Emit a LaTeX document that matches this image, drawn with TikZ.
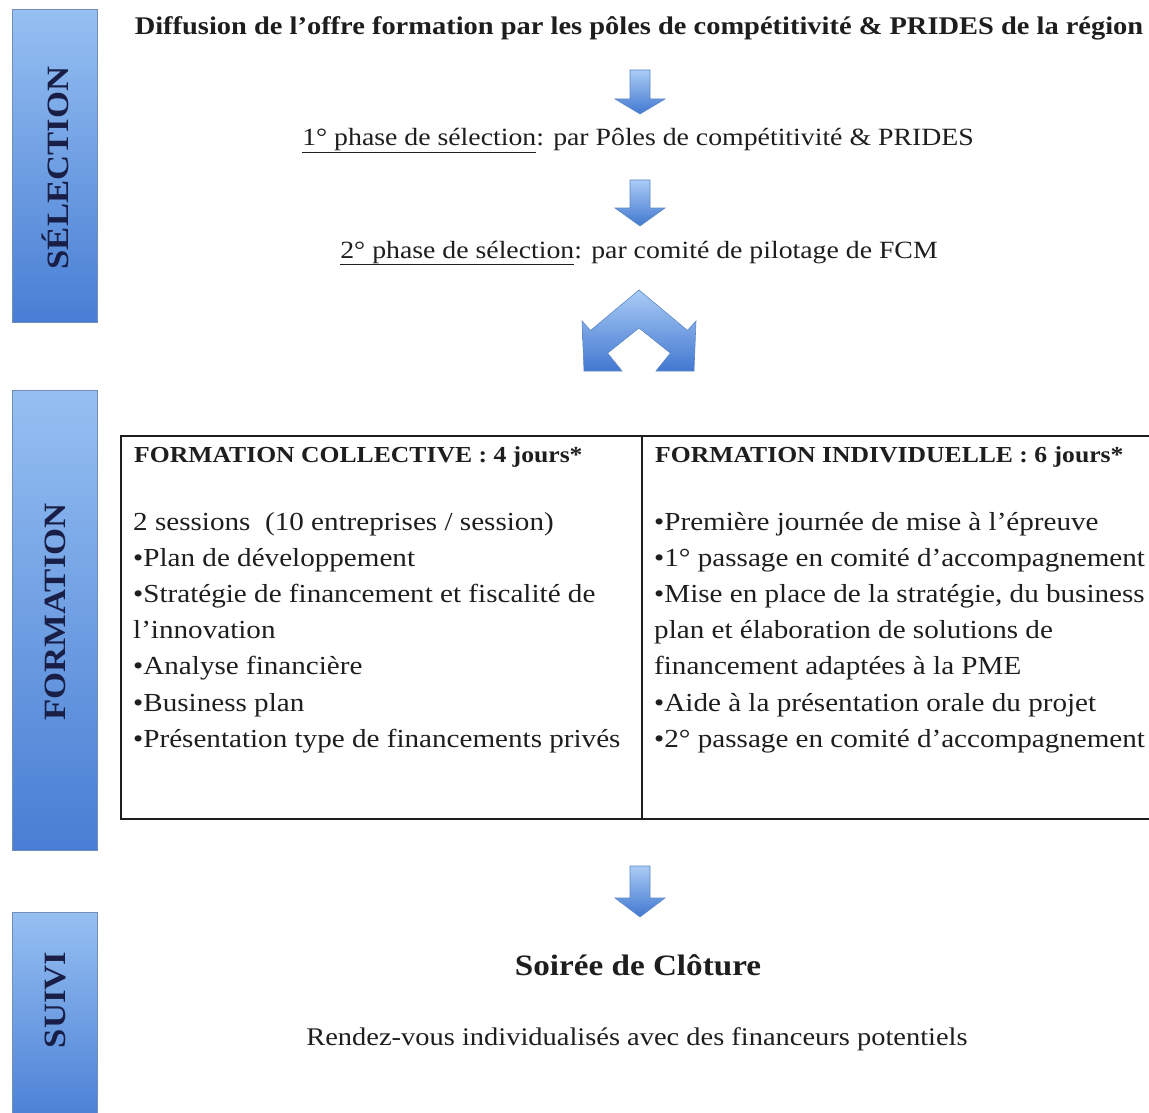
\documentclass[tikz,border=0pt]{standalone}
\usepackage{fontspec}
\setmainfont{Liberation Serif}[FakeStretch=1.12]
\definecolor{barTop}{RGB}{150,192,242}
\definecolor{barBot}{RGB}{72,126,212}
\definecolor{barEdge}{RGB}{115,140,185}
\definecolor{navy}{RGB}{25,30,70}
\definecolor{arrTop}{RGB}{170,204,246}
\definecolor{arrBot}{RGB}{66,120,208}
\definecolor{arrEdge}{RGB}{95,135,200}
\definecolor{ink}{RGB}{30,30,30}
\newcommand\blkarrow[4]{%
  \shadedraw[blk] (#1-10,#2) -- (#1+10,#2) -- (#1+10,#3) -- (#1+25,#3) -- (#1,#4) -- (#1-25,#3) -- (#1-10,#3) -- cycle;}
\begin{document}
\begin{tikzpicture}[x=1pt,y=-1pt,
  bar/.style={top color=barTop, bottom color=barBot, draw=barEdge, line width=1},
  barlabel/.style={rotate=90, font=\fontsize{31}{31}\selectfont\bfseries, text=navy, inner sep=0},
  blk/.style={top color=arrTop, bottom color=arrBot, draw=arrEdge, line width=0.6},
  txt/.style={text=ink, inner sep=0},
  titlef/.style={txt, font=\fontsize{25.4}{30}\selectfont\bfseries},
  topf/.style={txt, font=\fontsize{24.8}{30}\selectfont},
  hdrf/.style={txt, font=\fontsize{22.9}{30}\selectfont\bfseries},
  bodyf/.style={txt, font=\fontsize{26}{36}\selectfont},
  soirf/.style={txt, font=\fontsize{29.6}{34}\selectfont\bfseries},
  rdvf/.style={txt, font=\fontsize{25.4}{30}\selectfont},
  cell/.style={draw=ink, line width=1.7, anchor=north west, inner sep=0}
]
\useasboundingbox (0,0) rectangle (1149,1113);
\fill[white] (0,0) rectangle (1149,1113);

% side bars
\draw[bar] (12,10) rectangle (97,322);
\draw[bar] (12,390) rectangle (97,850);
\draw[bar] (12,912) rectangle (97,1125);
\node[barlabel] (lsel) at (55,168) {SÉLECTION};
\node[barlabel] (lform) at (55,612) {FORMATION};
\node[barlabel] (lsuivi) at (55,1000) {SUIVI};

% selection flow
\node[titlef, anchor=base] (title) at (639,35) {Diffusion de l'offre formation par les pôles de compétitivité \& PRIDES de la région};
\node[topf, anchor=base] (p1) at (638,146) {\underline{1° phase de sélection}: par Pôles de compétitivité \& PRIDES};
\node[topf, anchor=base] (p2) at (639,258) {\underline{2° phase de sélection}: par comité de pilotage de FCM};
\blkarrow{640}{70}{99}{114}
\blkarrow{640}{180}{208}{226}

% split chevron
\shadedraw[blk] (639,290) -- (590.5,330.5) -- (582,321) -- (584,371) -- (622,371) -- (607.6,353.1) -- (639,328)
  -- (670.4,353.1) -- (656,371) -- (694,371) -- (696,321) -- (687.5,330.5) -- cycle;

% formation table
\node[cell, minimum width=521, minimum height=383] (lcell) at (120,435) {};
\node[cell, minimum width=512, minimum height=383] (rcell) at (641,435) {};
\node[hdrf, anchor=base west] (lh) at (134,462) {FORMATION COLLECTIVE : 4 jours*};
\node[hdrf, anchor=base west] (rh) at (655,462) {FORMATION INDIVIDUELLE : 6 jours*};
\foreach \t [count=\i from 0] in {{2 sessions\ \ (10 entreprises / session)},{•Plan de développement},{•Stratégie de financement et fiscalité de},{l'innovation},{•Analyse financière},{•Business plan},{•Présentation type de financements privés}}
  \node[bodyf, anchor=base west] (l\i) at (133,530+36.2*\i) {\t};
\foreach \t [count=\i from 0] in {{•Première journée de mise à l'épreuve},{•1° passage en comité d'accompagnement},{•Mise en place de la stratégie, du business},{plan et élaboration de solutions de},{financement adaptées à la PME},{•Aide à la présentation orale du projet},{•2° passage en comité d'accompagnement}}
  \node[bodyf, anchor=base west] (r\i) at (654,530+36.2*\i) {\t};

% follow-up
\blkarrow{640}{866}{898}{917}
\node[soirf, anchor=base] (soir) at (638,975) {Soirée de Clôture};
\node[rdvf, anchor=base] (rdv) at (637,1045) {Rendez-vous individualisés avec des financeurs potentiels};
\end{tikzpicture}
\end{document}
